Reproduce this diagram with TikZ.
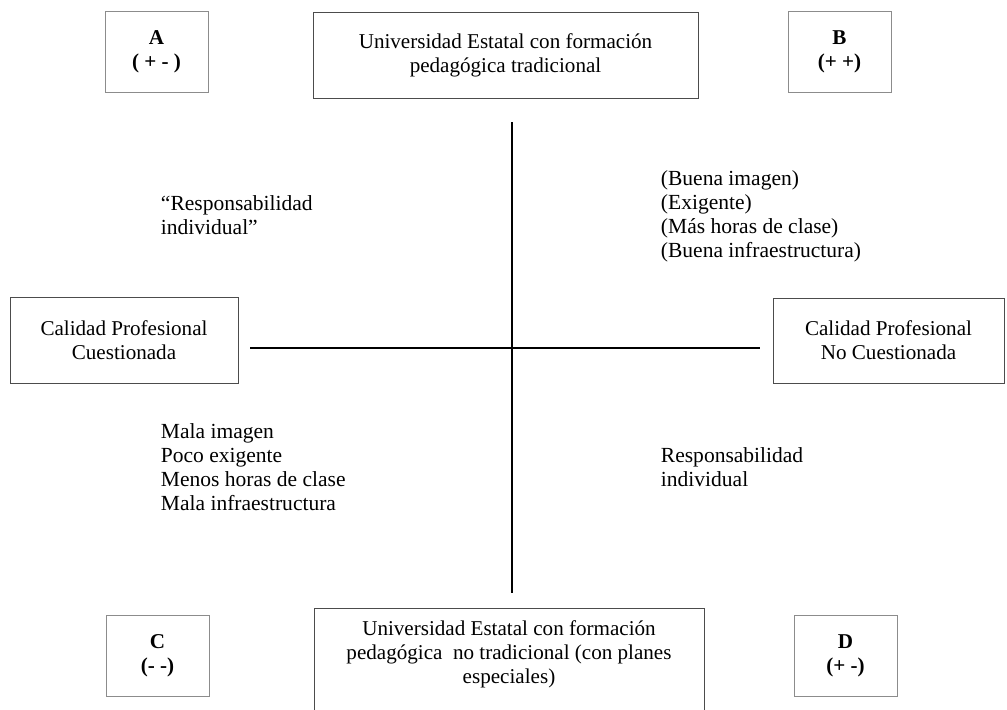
\documentclass[tikz,border=0pt]{standalone}
\usepackage{fontspec}
\setmainfont{Liberation Serif}
\begin{document}
\begin{tikzpicture}[x=0.025cm, y=-0.025cm,
    quadbox/.style={draw=black!45, line width=0.7pt, minimum width=103*0.025cm, minimum height=81*0.025cm, align=center, font=\fontsize{15}{17}\selectfont\bfseries},
    bigbox/.style={draw=black!70, line width=0.7pt, align=center, font=\fontsize{15}{17}\selectfont},
    quadtext/.style={anchor=west, align=left, font=\fontsize{15.3}{17}\selectfont},
    axis/.style={line width=1.1pt}]
    \useasboundingbox (0,0) rectangle (1007,710);

    % --- Corner boxes ---
    \node[quadbox] (A) at (156.5, 51.5) {A\\( + - )};
    \node[quadbox] (B) at (839.5, 52) {B\\(+ +)};
    \node[quadbox] (C) at (157.5, 656) {C\\(- -)};
    \node[quadbox] (D) at (845.5, 656) {D\\(+ -)};

    % --- Axis end boxes ---
    \node[bigbox, minimum width=385*0.025cm, minimum height=86*0.025cm] (trad) at (505.5, 55)
        {Universidad Estatal con formación\\pedagógica tradicional};
    \node[bigbox, minimum width=228*0.025cm, minimum height=86*0.025cm] (cuest) at (124, 340)
        {Calidad Profesional\\Cuestionada};
    \node[bigbox, minimum width=231*0.025cm, minimum height=85*0.025cm] (nocuest) at (888.5, 340.5)
        {Calidad Profesional\\No Cuestionada};
    % bottom box runs off the page
    \node[bigbox, draw=none] (notrad) at (509, 654)
        {Universidad Estatal con formación\\pedagógica \ no tradicional (con planes\\especiales)};
    \draw[draw=black!70, line width=0.7pt] (314, 712) |- (704, 608) -- (704, 712);

    % --- Axes ---
    \coordinate (vtop) at (512, 122);
    \coordinate (vbot) at (512, 593);
    \coordinate (hleft) at (250, 348);
    \coordinate (hright) at (760, 348);
    \draw[axis] (vtop) -- (vbot);
    \draw[axis] (hleft) -- (hright);

    % --- Quadrant texts ---
    \node[quadtext] (respA) at (156, 215) {“Responsabilidad\\individual”};
    \node[quadtext] (buena) at (656, 216) {(Buena imagen)\\(Exigente)\\(Más horas de clase)\\(Buena infraestructura)};
    \node[quadtext] (mala) at (156, 467) {Mala imagen\\Poco exigente\\Menos horas de clase\\Mala infraestructura};
    \node[quadtext] (respD) at (656, 467) {Responsabilidad\\individual};
\end{tikzpicture}
\end{document}
